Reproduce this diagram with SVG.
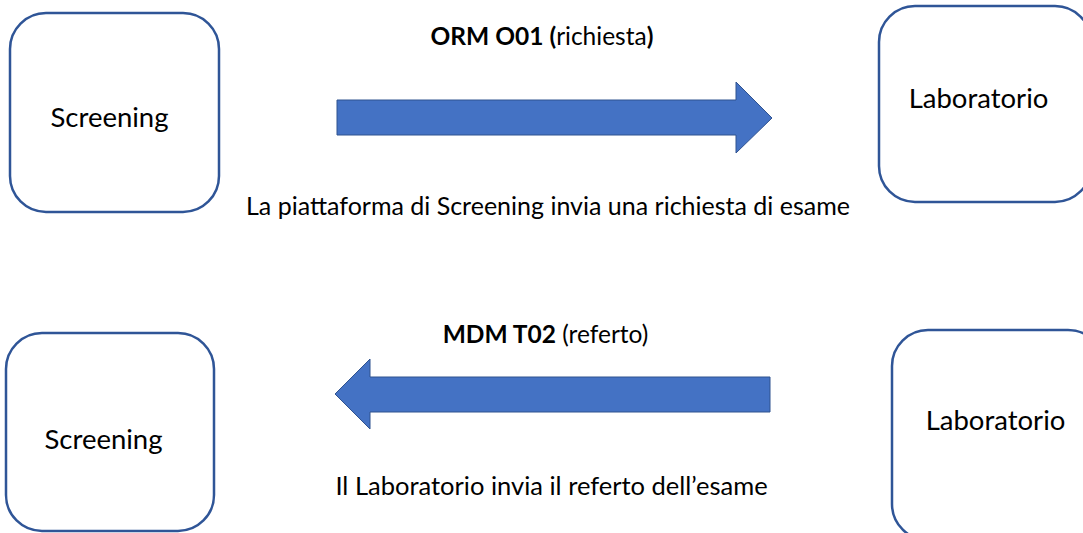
<svg xmlns="http://www.w3.org/2000/svg" width="1083" height="533" viewBox="0 0 1083 533">
<style>
.box{fill:#fff;stroke:#2F5597;stroke-width:2.5}
.arrow{fill:#4472C4;stroke:#2F528F;stroke-width:1}
text{font-family:Lato,"Open Sans","Liberation Sans",sans-serif;fill:#000}
.node{font-size:27.5px}
.lbl{font-size:24.5px}
.desc{font-size:25.5px}
.desc1{font-size:25px}
.b{font-weight:bold}
</style>
<rect width="1083" height="533" fill="#fff"/>
<g id="screening-top">
<rect class="box" x="10" y="13" width="209" height="199" rx="36"/>
<text class="node" x="109.5" y="127" text-anchor="middle">Screening</text>
</g>
<g id="laboratorio-top">
<rect class="box" x="879" y="6" width="212" height="196" rx="36"/>
<text class="node" x="978.5" y="108" text-anchor="middle">Laboratorio</text>
</g>
<g id="screening-bottom">
<rect class="box" x="6" y="333" width="208" height="198" rx="36"/>
<text class="node" x="103.5" y="449" text-anchor="middle">Screening</text>
</g>
<g id="laboratorio-bottom">
<rect class="box" x="892" y="330" width="212" height="210" rx="36"/>
<text class="node" x="995.5" y="430" text-anchor="middle">Laboratorio</text>
</g>
<g id="connectors">
<polygon class="arrow" points="337,100 736,100 736,82 772,118 736,153 736,135 337,135"/>
<text class="lbl" x="542" y="45" text-anchor="middle"><tspan class="b">ORM O01 (</tspan>richiesta<tspan class="b">)</tspan></text>
<text class="desc1" x="548" y="215" text-anchor="middle">La piattaforma di Screening invia una richiesta di esame</text>
<polygon class="arrow" points="770,377 370,377 370,359 335,394 370,429 370,412 770,412"/>
<text class="lbl" x="545.5" y="343" text-anchor="middle"><tspan class="b">MDM T02</tspan> (referto)</text>
<text class="desc" x="551.5" y="495" text-anchor="middle">Il Laboratorio invia il referto dell’esame</text>
</g>
</svg>
